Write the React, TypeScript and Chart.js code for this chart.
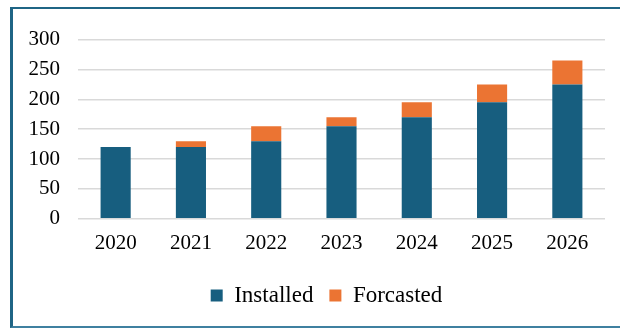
import React, { useEffect, useRef } from "react";
import { Chart, registerables } from "chart.js";

Chart.register(...registerables);

const categories = ["2020", "2021", "2022", "2023", "2024", "2025", "2026"];
const installed = [120, 120, 130, 155, 170, 195, 225];
const forcasted = [0, 10, 25, 15, 25, 30, 40];
const yTicks = [0, 50, 100, 150, 200, 250, 300];

const shiftLegend = {
  id: "shiftLegend",
  afterLayout(chart: any) {
    if (chart.legend) {
      chart.legend.left += 10;
      chart.legend.right += 10;
    }
  },
};

export default function App() {
  const ref = useRef<HTMLCanvasElement | null>(null);
  useEffect(() => {
    if (!ref.current) return;
    const family = "'Liberation Serif', 'Times New Roman', serif";
    const font = { family, size: 21 };
    const chart = new Chart(ref.current, {
      type: "bar",
      data: {
        labels: categories,
        datasets: [
          {
            label: "Installed",
            data: installed,
            backgroundColor: "#175E7F",
            borderWidth: 0,
            categoryPercentage: 0.8,
            barPercentage: 0.5,
          },
          {
            label: "Forcasted",
            data: forcasted,
            backgroundColor: "#EB7433",
            borderWidth: 0,
            categoryPercentage: 0.8,
            barPercentage: 0.5,
          },
        ],
      },
      plugins: [shiftLegend],
      options: {
        animation: false,
        responsive: false,
        maintainAspectRatio: false,
        layout: { padding: { left: 15, right: 8, top: 12, bottom: 8 } },
        plugins: {
          tooltip: { enabled: false },
          legend: {
            position: "bottom",
            labels: {
              font: { family, size: 23 },
              color: "#000",
              boxWidth: 12,
              boxHeight: 12,
              padding: 16,
            },
          },
        },
        scales: {
          x: {
            stacked: true,
            grid: { display: false, drawTicks: false },
            border: { display: false },
            ticks: { font, color: "#000", padding: 12 },
          },
          y: {
            stacked: true,
            min: 0,
            max: 300,
            afterBuildTicks: (axis: any) => {
              axis.ticks = yTicks.map((v) => ({ value: v }));
            },
            afterFit: (axis: any) => {
              axis.width = 50;
            },
            grid: { color: "#D9D9D9", lineWidth: 1.5, drawTicks: false },
            border: { display: false },
            ticks: { font, color: "#000", padding: 18 },
          },
        },
      },
    });
    return () => chart.destroy();
  }, []);
  return (
    <div
      style={{
        position: "fixed",
        left: 10,
        top: 7,
        width: 620,
        height: 321,
        borderLeft: "3px solid #1F6585",
        borderTop: "2px solid #1F6585",
        borderBottom: "2px solid #3F80A0",
        background: "#fff",
        boxSizing: "border-box",
      }}
    >
      <canvas ref={ref} width={600} height={316} style={{ display: "block", width: 600, height: 316 }} />
    </div>
  );
}
